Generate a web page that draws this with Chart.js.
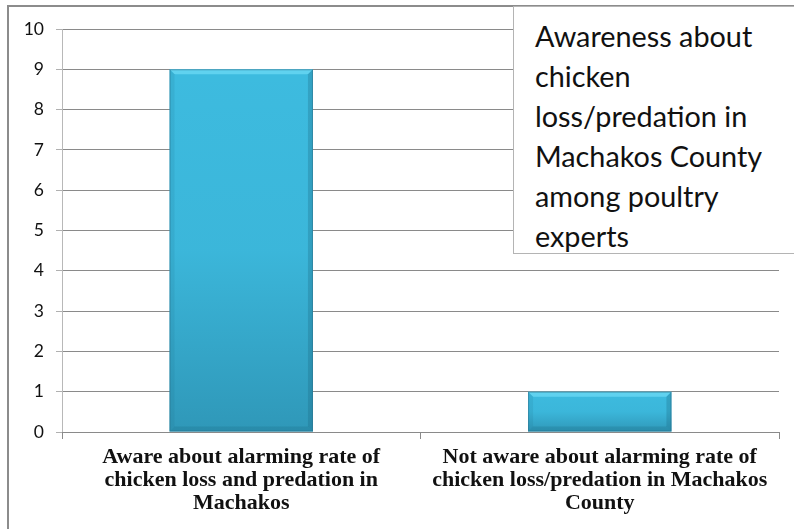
<!DOCTYPE html>
<html>
<head>
<meta charset="utf-8">
<script src="https://cdn.jsdelivr.net/npm/chart.js@4.4.1/dist/chart.umd.min.js"></script>
<style>
  html, body { margin: 0; padding: 0; background: #fff; }
  #wrap { position: relative; width: 794px; height: 529px; overflow: hidden; }
  #frame { position: absolute; left: 7px; top: 5px; width: 800px; height: 540px;
           border-left: 2px solid #8c8c8c; border-top: 2px solid #8c8c8c; box-sizing: border-box; }
  #c { position: absolute; left: 0; top: 0; }
  #titleBox { position: absolute; left: 513px; top: 6px; width: 300px; height: 248px;
              background: #fff; border: 1.5px solid #b4b4b4; box-sizing: border-box;
              overflow: hidden; padding: 9px 0 0 21px;
              font-family: Lato, "Open Sans", sans-serif; font-size: 28.8px; line-height: 40px; color: #111; }
</style>
</head>
<body>
<div id="wrap">
  <canvas id="c" width="794" height="529"></canvas>
  <div id="frame"></div>
  <div id="titleBox">Awareness about<br>chicken<br>loss/predation in<br>Machakos County<br>among poultry<br>experts</div>
</div>
<script>
// Categories (multi-line labels) and counts of respondents
const categories = [
  ["Aware about alarming rate of", "chicken loss and predation in", "Machakos"],
  ["Not aware about alarming rate of", "chicken loss/predation in Machakos", "County"]
];
const counts = [9, 1];
const yTicks = [0, 1, 2, 3, 4, 5, 6, 7, 8, 9, 10];

// Shading and soft bevel drawn over each bar after the library places it
const bevel = {
  id: 'bevel',
  afterDatasetsDraw(chart) {
    const c = chart.ctx;
    chart.getDatasetMeta(0).data.forEach(bar => {
      const l = bar.x - bar.width / 2, r = bar.x + bar.width / 2;
      const t = bar.y, b = bar.base, d = 5;
      c.save();
      // darker toward the base
      const g = c.createLinearGradient(0, t, 0, b);
      g.addColorStop(0, 'rgba(15,70,95,0)');
      g.addColorStop(0.5, 'rgba(15,70,95,0.04)');
      g.addColorStop(1, 'rgba(15,70,95,0.3)');
      c.fillStyle = g;
      c.fillRect(l, t, r - l, b - t);
      // top highlight
      c.fillStyle = 'rgba(120,225,250,0.6)';
      c.beginPath(); c.moveTo(l, t); c.lineTo(r, t); c.lineTo(r - d, t + d); c.lineTo(l + d, t + d); c.closePath(); c.fill();
      // right and bottom shade
      c.fillStyle = 'rgba(25,100,125,0.28)';
      c.beginPath(); c.moveTo(r, t); c.lineTo(r, b); c.lineTo(r - d, b - d); c.lineTo(r - d, t + d); c.closePath(); c.fill();
      c.fillStyle = 'rgba(25,100,125,0.22)';
      c.beginPath(); c.moveTo(l, b); c.lineTo(r, b); c.lineTo(r - d, b - d); c.lineTo(l + d, b - d); c.closePath(); c.fill();
      c.fillStyle = 'rgba(25,100,125,0.12)';
      c.beginPath(); c.moveTo(l, t); c.lineTo(l + d, t + d); c.lineTo(l + d, b - d); c.lineTo(l, b); c.closePath(); c.fill();
      c.strokeStyle = 'rgba(40,110,135,0.5)'; c.lineWidth = 1;
      c.strokeRect(l + 0.5, t + 0.5, r - l - 1, b - t - 1);
      c.restore();
    });
  }
};

new Chart(document.getElementById('c'), {
  type: 'bar',
  data: {
    labels: categories,
    datasets: [{
      data: counts,
      backgroundColor: '#3dbbdf',
      borderWidth: 0,
      barPercentage: 0.8,
      categoryPercentage: 0.5
    }]
  },
  options: {
    responsive: false,
    animation: false,
    events: [],
    layout: { padding: { left: 7, top: 29, right: 15, bottom: 0 } },
    plugins: { legend: { display: false }, tooltip: { enabled: false }, title: { display: false } },
    scales: {
      y: {
        min: 0, max: 10,
        afterFit: s => { s.width = 55; },
        afterBuildTicks: s => { s.ticks = yTicks.map(v => ({ value: v })); },
        ticks: { font: { family: 'Lato, "Open Sans", sans-serif', size: 17.5 }, color: '#111', padding: 12 },
        grid: { color: '#8a8a8a', lineWidth: 1, tickLength: 6, tickColor: '#b0b0b0' },
        border: { color: '#b8b8b8', width: 1 }
      },
      x: {
        afterFit: s => { s.height = 97; },
        ticks: {
          font: { family: '"Liberation Serif", "Times New Roman", serif', size: 22, weight: 'bold', lineHeight: '23px' },
          color: '#111', padding: 7, maxRotation: 0, autoSkip: false
        },
        grid: { offset: true, drawOnChartArea: false, tickLength: 7, color: '#8a8a8a' },
        border: { color: '#8a8a8a', width: 1 }
      }
    }
  },
  plugins: [bevel]
});
</script>
</body>
</html>
